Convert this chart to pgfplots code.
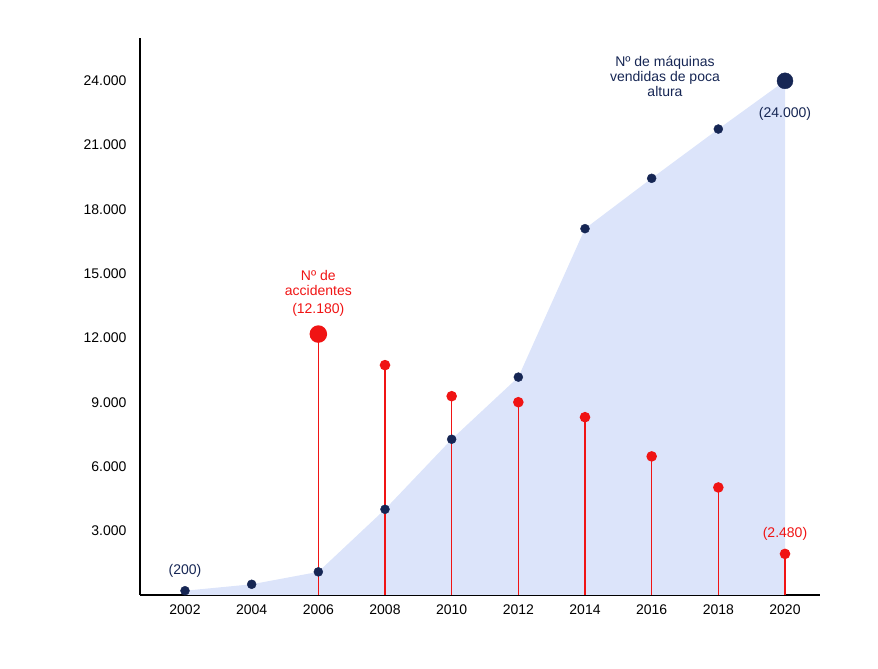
\documentclass[border=0pt]{standalone}
\usepackage{fontspec}
\setmainfont{Liberation Sans}
\usepackage{pgfplots}
\pgfplotsset{compat=1.18}
\definecolor{navy}{RGB}{22,38,84}
\definecolor{fillb}{RGB}{220,228,250}
\definecolor{redc}{RGB}{240,20,20}
\begin{document}
\begin{tikzpicture}
\begin{axis}[scale only axis, width=680pt, height=557pt,
 xmin=2000.65, xmax=2021.05, ymin=0, ymax=26000,
 axis lines=left, axis line style={black, line width=1.2pt, -},
 xtick={2002,2004,...,2020}, ytick={3000,6000,...,24000},
 scaled y ticks=false,
 major tick length=0pt, tick style={draw=none},
 /pgf/number format/.cd, 1000 sep={.}, assume math mode=true, /pgfplots/.cd,
 xticklabel style={/pgf/number format/1000 sep={}, yshift=-6pt},
 yticklabel style={xshift=-10pt},
 tick label style={font=\fontsize{14}{16}\selectfont, black},
 clip=false]
\addplot[fill=fillb, draw=none] coordinates {(2002,200)(2004,500)(2006,1080)(2008,4000)(2010,7270)(2012,10170)(2014,17100)(2016,19450)(2018,21750)(2020,24000)(2020,0)(2002,0)} \closedcycle;
\addplot[ycomb, redc, line width=1.5pt, mark=*, mark options={fill=redc, draw=redc}, mark size=4.5pt]
 coordinates {(2008,10730)(2010,9280)(2012,9000)(2014,8300)(2016,6470)(2018,5020)(2020,1920)};
\addplot[ycomb, redc, line width=1.5pt, mark=*, mark options={fill=redc, draw=redc}, mark size=8pt]
 coordinates {(2006,12180)};
\addplot[only marks, mark=*, navy, mark size=4.5pt]
 coordinates {(2002,200)(2004,500)(2006,1080)(2008,4000)(2010,7270)(2012,10170)(2014,17100)(2016,19450)(2018,21750)};
\addplot[only marks, mark=*, navy, mark size=8pt] coordinates {(2020,24000)};
\node[navy, align=center, font=\fontsize{14}{15}\selectfont] at (axis cs:2016.4,24200) {Nº de máquinas\\vendidas de poca\\altura};
\node[navy, font=\fontsize{14}{16}\selectfont] at (axis cs:2020,22450) {(24.000)};
\node[redc, align=center, font=\fontsize{14}{15}\selectfont] at (axis cs:2006,14550) {Nº de\\accidentes};
\node[redc, font=\fontsize{14}{16}\selectfont] at (axis cs:2006,13300) {(12.180)};
\node[navy, font=\fontsize{14}{16}\selectfont] at (axis cs:2002,1130) {(200)};
\node[redc, font=\fontsize{14}{16}\selectfont] at (axis cs:2020,2870) {(2.480)};
\end{axis}
\pgfresetboundingbox
\path ([xshift=-140pt,yshift=-74pt]current axis.south west) rectangle ([xshift=738pt,yshift=595pt]current axis.south west);
\end{tikzpicture}
\end{document}
